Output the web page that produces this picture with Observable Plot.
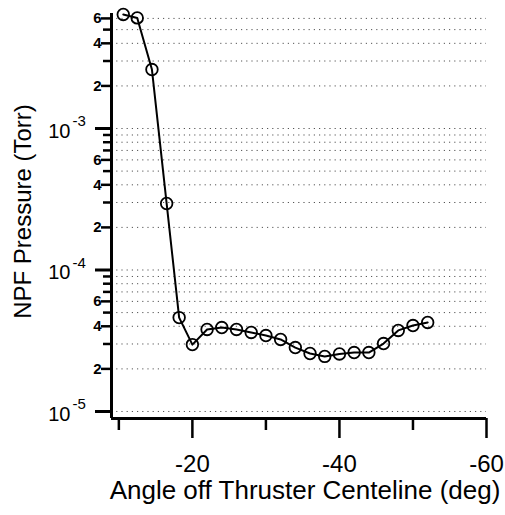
<!DOCTYPE html>
<html>
<head>
<meta charset="utf-8">
<script src="https://cdn.jsdelivr.net/npm/d3@7"></script>
<script src="https://cdn.jsdelivr.net/npm/@observablehq/plot@0.6"></script>
<style>
  html, body { margin: 0; padding: 0; background: white; }
</style>
</head>
<body>
<div id="chart"></div>
<script>
// Data
const angle = [-10.6, -12.5, -14.5, -16.5, -18.2, -20, -22, -24, -26, -28, -30, -32, -34, -36, -38, -40, -42, -44, -46, -48, -50, -52];
const pressure = [6.4e-3, 6.05e-3, 2.61e-3, 2.95e-4, 4.61e-5, 2.97e-5, 3.80e-5, 3.92e-5, 3.80e-5, 3.62e-5, 3.44e-5, 3.23e-5, 2.83e-5, 2.57e-5, 2.45e-5, 2.55e-5, 2.61e-5, 2.61e-5, 3.02e-5, 3.74e-5, 4.05e-5, 4.26e-5];

// Tick values and labels
const xMajorTicks = [-20, -40, -60];
const xMinorTicks = [-10, -30, -50];
const yDecades = [1e-5, 1e-4, 1e-3];
const yDecadeExp = ["-5", "-4", "-3"];
const yLabeledTicks = [2e-5, 4e-5, 6e-5, 2e-4, 4e-4, 6e-4, 2e-3, 4e-3, 6e-3];
const yLabeledText = ["2", "4", "6", "2", "4", "6", "2", "4", "6"];
const yMinorTicks = [3e-5, 5e-5, 7e-5, 8e-5, 9e-5, 3e-4, 5e-4, 7e-4, 8e-4, 9e-4, 3e-3, 5e-3];
const yGrid = [1e-5, 2e-5, 3e-5, 4e-5, 5e-5, 6e-5, 7e-5, 8e-5, 9e-5,
               1e-4, 2e-4, 3e-4, 4e-4, 5e-4, 6e-4, 7e-4, 8e-4, 9e-4,
               1e-3, 2e-3, 3e-3, 4e-3, 5e-3, 6e-3];
const xTitle = "Angle off Thruster Centeline (deg)";
const yTitle = "NPF Pressure (Torr)";

const xDomain = [-9, -60];
const yDomain = [8.92e-6, 6.5e-3];

const data = angle.map((a, i) => ({angle: a, pressure: pressure[i]}));

const chart = Plot.plot({
  width: 505,
  height: 515,
  marginLeft: 111,
  marginRight: 19,
  marginTop: 13,
  marginBottom: 97,
  style: {fontFamily: "'Liberation Sans', Arial, Helvetica, sans-serif", background: "white", color: "black"},
  x: {domain: xDomain},
  y: {type: "log", domain: yDomain},
  marks: [
    Plot.ruleY(yGrid, {y: d => d, stroke: "#555", strokeWidth: 1, strokeDasharray: "1.2,4"}),
    Plot.ruleX([xDomain[0]], {stroke: "black", strokeWidth: 3}),
    Plot.ruleY([yDomain[0]], {stroke: "black", strokeWidth: 3}),
    Plot.axisY(yDecades, {tickSize: 16, strokeWidth: 3, tickFormat: () => "", label: null}),
    Plot.axisY(yMinorTicks, {tickSize: 8, strokeWidth: 2.5, tickFormat: () => "", label: null}),
    Plot.axisY(yLabeledTicks, {tickSize: 10, strokeWidth: 2.5, tickFormat: () => "", label: null}),
    Plot.text(yLabeledTicks, {y: d => d, text: (d, i) => yLabeledText[i], frameAnchor: "left", dx: -10, textAnchor: "end", lineAnchor: "middle", fontSize: 15, fontWeight: "bold"}),
    Plot.axisX(xMajorTicks, {tickSize: 20, tickPadding: 16, strokeWidth: 2.5, tickFormat: d => String(d), fontSize: 24, label: null}),
    Plot.axisX(xMinorTicks, {tickSize: 12, strokeWidth: 2.5, tickFormat: () => "", label: null}),
    Plot.text(yDecades, {y: d => d, text: () => "10", frameAnchor: "left", dx: -41, dy: 3, textAnchor: "end", fontSize: 20}),
    Plot.text(yDecades, {y: d => d, text: (d, i) => yDecadeExp[i], frameAnchor: "left", dx: -39, dy: -7, textAnchor: "start", fontSize: 15}),
    Plot.text([xTitle], {text: d => d, frameAnchor: "bottom", textAnchor: "middle", dx: 6, dy: 80, lineAnchor: "bottom", fontSize: 26}),
    Plot.text([yTitle], {text: d => d, frameAnchor: "left", textAnchor: "middle", lineAnchor: "middle", rotate: -90, dx: -88, dy: -4.5, fontSize: 24}),
    Plot.line(data, {x: "angle", y: "pressure", stroke: "black", strokeWidth: 2}),
    Plot.dot(data, {x: "angle", y: "pressure", r: 5.8, stroke: "black", strokeWidth: 1.8, fill: "none"})
  ]
});
document.getElementById("chart").appendChild(chart);
</script>
</body>
</html>
